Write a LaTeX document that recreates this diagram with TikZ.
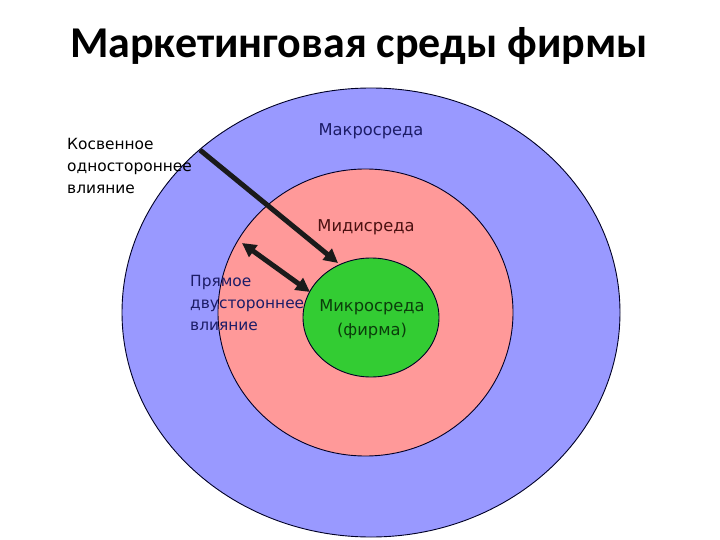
\documentclass[tikz,border=0pt]{standalone}
\usepackage{fontspec}
\setmainfont{Carlito}
\newfontfamily\labelfont{DejaVu Sans}
\usetikzlibrary{shapes.geometric,arrows.meta}
\definecolor{macro}{HTML}{9999FF}
\definecolor{midi}{HTML}{FF9999}
\definecolor{micro}{HTML}{33CC33}
\definecolor{navytext}{HTML}{1C1C66}
\definecolor{redtext}{HTML}{4A1010}
\definecolor{greentext}{HTML}{0B3D0B}
\definecolor{arrowcol}{HTML}{1A1A1A}
\tikzset{
  ring/.style={ellipse,draw=black!85!blue,line width=0.9pt,inner sep=0pt},
  lbl/.style={inner sep=0pt,font=\labelfont\fontsize{16.3}{22}\selectfont,align=center},
  side/.style={inner sep=0pt,font=\labelfont\fontsize{15.4}{22}\selectfont,align=left,anchor=base west},
  influence/.style={line width=5pt,draw=arrowcol,-{Triangle[length=14pt,width=14pt]}},
  both/.style={influence,{Triangle[length=14pt,width=14pt]}-{Triangle[length=14pt,width=14pt]}}
}
\begin{document}
\begin{tikzpicture}[x=1pt,y=-1pt]
\useasboundingbox (0,0) rectangle (720,540);
\node[anchor=base,font=\fontsize{44}{48}\selectfont\bfseries] (title) at (359,58) {Маркетинговая среды фирмы};
\node[ring,fill=macro,minimum width=498pt,minimum height=449pt] (outer) at (371,312.5) {};
\node[ring,fill=midi,minimum width=295pt,minimum height=287pt] (middle) at (365.5,312.5) {};
\node[ring,fill=micro,minimum width=136pt,minimum height=119pt] (inner) at (371,317.5) {};
\node[lbl,text=navytext,anchor=base] (macrolbl) at (371,136) {Макросреда};
\node[lbl,text=redtext,anchor=base] (midilbl) at (366,232) {Мидисреда};
\node[lbl,text=greentext,anchor=base] (microlbl) at (372,311) {Микросреда};
\node[lbl,text=greentext,anchor=base] (firmlbl) at (372,335) {(фирма)};
\node[side,text=black] (indirect) at (67,194) {Косвенное\\одностороннее\\влияние};
\node[side,text=navytext] (direct) at (190,330) {Прямое\\двустороннее\\влияние};
\coordinate (s1) at (200,150);
\coordinate (e1) at (338,263);
\coordinate (s2) at (242,243);
\coordinate (e2) at (310,292);
\draw[influence] (s1) -- (e1);
\draw[both] (s2) -- (e2);
\end{tikzpicture}
\end{document}
